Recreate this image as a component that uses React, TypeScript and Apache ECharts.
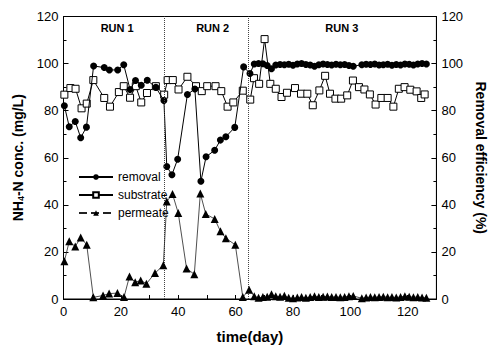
import { useEffect, useRef } from "react";
import * as echarts from "echarts";

// ---- data ----
const removalDays = [
  0.3, 2.0, 4.1, 6.0, 8.0, 10.5, 14.2, 16.0, 18.9, 21.0, 23.2, 25.1, 27.1, 29.2, 32.2, 35.0,
  36.0, 37.8, 39.8, 43.2, 45.8, 47.9, 49.7, 52.7, 54.7, 56.6, 59.7, 62.8, 65.0,
  66.5, 68, 69.5, 71, 72.5, 74, 75.5, 77, 78.5, 80, 81.5, 83, 84.5, 86, 87.5, 89, 90.5, 92, 93.5, 95,
  96.5, 98, 99.5, 101, 104, 105.5, 107, 108.5, 110, 111.5, 113, 114.5, 116, 117.5, 119, 120.5, 122,
  123.5, 125, 126.5,
];
const removalValues = [
  82.1, 73.2, 75.4, 68.5, 73.0, 99.0, 98.3, 97.3, 97.3, 99.5, 89.0, 92.8, 90.8, 92.9, 89.9, 84.3,
  56.3, 52.8, 59.4, 86.9, 89.2, 50.0, 60.4, 63.2, 67.5, 68.9, 72.9, 98.6, 95.8,
  99.8, 100, 99.9, 99.2, 97.8, 99.4, 99.6, 99.5, 99.7, 99.3, 99.8, 100, 99.6, 99.4, 98.9, 99.5, 99.8, 99.6, 99.4, 99.7,
  99.5, 99.6, 99.2, 98.9, 99.5, 99.7, 99.6, 99.8, 99.4, 99.5, 99.7, 99.3, 99.6, 99.4, 99.8, 99.7, 99.4,
  99.8, 100, 99.8,
];

const substrateDays = [
  0.3, 2.4, 4.2, 6.3, 8.1, 10.4, 14.2, 16.2, 19.3, 21.0, 23.2, 25.2, 27.1, 29.1, 32.2, 35.1,
  36.3, 38.1, 40.1, 43.2, 46.2, 48.2, 50.1, 53.0, 55.0, 57.2, 59.2, 62.5,
  65.1, 66.4, 68.2, 70.1, 72.1, 74.0, 76.0, 77.9, 80.7, 82.8, 85.0, 86.9, 89.2, 91.2, 92.9, 94.8,
  96.8, 98.9, 100.9, 103.0, 104.9, 106.8, 108.8, 110.8, 113.0, 115.0, 116.9, 118.9, 120.9, 123.1,
  124.7, 125.9,
];
const substrateValues = [
  86.8, 89.6, 89.3, 81.0, 83.0, 93.0, 85.4, 81.7, 87.9, 90.4, 85.5, 90.4, 83.5, 87.5, 90.4, 86.8,
  93.0, 93.0, 89.0, 94.4, 90.4, 88.3, 90.4, 90.4, 88.3, 81.7, 83.5, 88.5,
  84.7, 93.8, 91.4, 110.4, 91.4, 89.3, 85.8, 87.6, 89.6, 87.2, 87.2, 82.3, 88.6, 94.8, 87.2, 85.1,
  85.1, 86.5, 92.8, 90.0, 89.0, 86.9, 82.6, 85.4, 85.4, 81.7, 89.3, 90.0, 88.9, 88.2,
  85.4, 86.9,
];

const permeateDays = [
  0.3, 2.0, 4.1, 6.0, 8.1, 10.4, 13.8, 15.9, 18.8, 21.1, 23.0, 25.0, 26.9, 28.9, 31.9, 34.8,
  36.0, 38.0, 40.0, 42.9, 45.6, 47.7, 49.6, 52.7, 54.7, 56.6, 59.9, 62.5, 64.7,
  66.5, 68, 69.5, 71, 72.5, 74, 75.5, 77, 78.5, 80, 81.5, 83, 84.5, 86, 87.5, 89, 90.5, 92, 93.5, 95,
  96.5, 98, 99.5, 101, 104, 105.5, 107, 108.5, 110, 111.5, 113, 114.5, 116, 117.5, 119, 120.5, 122,
  123.5, 125, 126.5,
];
const permeateValues = [
  16.0, 24.5, 22.3, 26.1, 23.0, 0.7, 1.5, 2.3, 2.5, 0.8, 9.6, 7.1, 7.9, 6.5, 11.0, 14.3,
  41.4, 44.6, 36.5, 13.0, 10.5, 44.8, 36.1, 34.0, 28.8, 25.8, 23.0, 0.8, 3.9,
  1.2, 0.5, 0.8, 1.0, 2.0, 1.2, 1.0, 1.4, 0.5, 0.3, 0.6, 0.8, 0.5, 0.9, 1.2, 0.8, 1.0, 1.1, 0.8, 0.9,
  0.7, 0.9, 1.2, 1.3, 0.3, 0.6, 0.8, 0.7, 0.9, 1.0, 0.7, 0.8, 0.6, 0.9, 1.2, 1.0, 0.7, 0.9, 0.6, 0.5,
];

const runBoundaryDays = [35, 64.3];
const runLabels = ["RUN 1", "RUN 2", "RUN 3"];
const runLabelDays = [18.7, 52, 97];
const runLabelLevel = 115;

const xTicks = [0, 20, 40, 60, 80, 100, 120];

const zip = (a: number[], b: number[]) => a.map((d, i) => [d, b[i]]);

const FONT = '"Liberation Sans", Arial, sans-serif';

export default function App() {
  const ref = useRef<HTMLDivElement>(null);
  useEffect(() => {
    const chart = echarts.init(ref.current!, null, { renderer: "svg" });
    const axisLine = { show: true, lineStyle: { color: "#000", width: 1 } };
    const yAxisCommon = {
      type: "value",
      min: 0,
      max: 120,
      interval: 20,
      axisLine,
      axisTick: { show: true, inside: true, length: 5, lineStyle: { color: "#000" } },
      minorTick: { show: true, splitNumber: 2, length: 3, lineStyle: { color: "#000" } },
      splitLine: { show: false },
      axisLabel: { color: "#000", fontSize: 13, fontFamily: FONT, margin: 5 },
      nameLocation: "middle",
    };
    chart.setOption({
      animation: false,
      backgroundColor: "#fff",
      grid: {
        left: 63.5,
        right: 46.5,
        top: 16.5,
        bottom: 44.7,
        show: true,
        borderColor: "#000",
        borderWidth: 1,
      },
      legend: {
        left: 78,
        top: 171,
        padding: 0,
        orient: "vertical",
        itemWidth: 34,
        itemHeight: 7,
        itemGap: 6,
        textStyle: { color: "#000", fontSize: 12, fontFamily: FONT },
        data: [
          { name: "removal" },
          { name: "substrate" },
          { name: "permeate", lineStyle: { type: "dashed" } },
        ],
      },
      xAxis: {
        type: "value",
        min: 0,
        max: 130,
        interval: 10,
        axisLine,
        axisTick: { show: true, inside: true, length: 4, lineStyle: { color: "#000" } },
        splitLine: { show: false },
        axisLabel: {
          color: "#000",
          fontSize: 13,
          fontFamily: FONT,
          margin: 6,
          formatter: (v: number) => (xTicks.includes(v) ? String(v) : ""),
        },
        name: "time(day)",
        nameLocation: "middle",
        nameGap: 30,
        nameTextStyle: { color: "#000", fontSize: 15, fontWeight: "bold", fontFamily: FONT },
      },
      yAxis: [
        {
          ...yAxisCommon,
          position: "left",
          name: "{b|NH}{s|4}{b|-N conc. (mg/L)}",
          nameRotate: 90,
          nameGap: 36,
          nameTextStyle: {
            color: "#000",
            fontFamily: FONT,
            rich: {
              b: { fontSize: 14, fontWeight: "bold", fontFamily: FONT, color: "#000" },
              s: { fontSize: 9, fontWeight: "bold", fontFamily: FONT, color: "#000", verticalAlign: "bottom", padding: [6, 0, 0, 0] },
            },
          },
        },
        {
          ...yAxisCommon,
          position: "right",
          name: "Removal efficiency (%)",
          nameRotate: -90,
          nameGap: 34,
          nameTextStyle: { color: "#000", fontSize: 14, fontWeight: "bold", fontFamily: FONT },
        },
      ],
      series: [
        {
          name: "substrate",
          type: "line",
          yAxisIndex: 0,
          data: zip(substrateDays, substrateValues),
          symbol: "rect",
          symbolSize: 7,
          itemStyle: { color: "#fff", borderColor: "#000", borderWidth: 1 },
          lineStyle: { color: "#000", width: 1 },
          markLine: {
            silent: true,
            symbol: "none",
            label: { show: false },
            lineStyle: { type: "dotted", color: "#444", width: 1 },
            data: runBoundaryDays.map((d) => ({ xAxis: d })),
          },
          z: 3,
        },
        {
          name: "removal",
          type: "line",
          yAxisIndex: 1,
          data: zip(removalDays, removalValues),
          symbol: "circle",
          symbolSize: 7,
          itemStyle: { color: "#000" },
          lineStyle: { color: "#000", width: 1 },
          z: 4,
        },
        {
          name: "permeate",
          type: "line",
          yAxisIndex: 0,
          data: zip(permeateDays, permeateValues),
          symbol: "triangle",
          symbolSize: 8,
          itemStyle: { color: "#000" },
          lineStyle: { color: "#222", width: 0.8 },
          z: 5,
        },
      ],
    });
    const graphic = runLabels.map((t, i) => {
      const p = chart.convertToPixel({ gridIndex: 0 }, [runLabelDays[i], runLabelLevel]) as number[];
      return {
        type: "text",
        x: p[0],
        y: p[1],
        style: {
          text: t,
          fill: "#000",
          font: `bold 11px ${FONT}`,
          align: "center",
          verticalAlign: "middle",
        },
      };
    });
    chart.setOption({ graphic });
    return () => chart.dispose();
  }, []);
  return (
    <div
      ref={ref}
      style={{ position: "fixed", left: 0, top: 0, width: 496, height: 349, background: "#fff" }}
    />
  );
}
